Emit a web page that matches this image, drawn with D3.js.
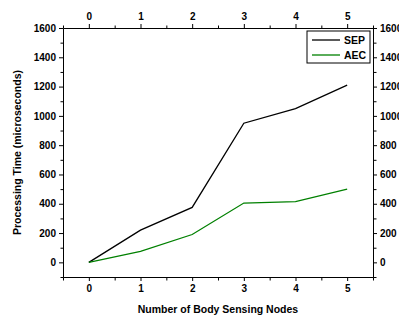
<!DOCTYPE html>
<html>
<head>
<meta charset="utf-8">
<script src="https://cdn.jsdelivr.net/npm/d3@7"></script>
<style>
  body { margin: 0; background: #fff; }
  text { font-family: "Liberation Sans", Arial, sans-serif; font-weight: bold; }
</style>
</head>
<body>
<svg id="mainsvg" width="399" height="320"></svg>
<script>
const nodes = [0, 1, 2, 3, 4, 5];
const sepValues = [0, 220, 375, 950, 1050, 1210];
const aecValues = [0, 75, 190, 405, 415, 500];
const yTicks = [0, 200, 400, 600, 800, 1000, 1200, 1400, 1600];
const seriesNames = ['SEP', 'AEC'];
const seriesColors = ['#000000', '#008000'];

const svg = d3.select('#mainsvg');
const margin = { top: 28, right: 26, bottom: 43, left: 63 };
const innerWidth = 399 - margin.left - margin.right;
const innerHeight = 320 - margin.top - margin.bottom;

const g = svg.append('g')
    .attr('transform', `translate(${margin.left}, ${margin.top})`);

const xScale = d3.scaleLinear().domain([-0.5, 5.5]).range([0, innerWidth]);
const yScale = d3.scaleLinear().domain([-100, 1600]).range([innerHeight, 0]);

const xMinor = d3.range(-0.5, 5.51, 0.5).filter(v => !nodes.includes(v));
const yMinor = d3.range(-100, 1601, 100).filter(v => !yTicks.includes(v));

function styleAxis(sel) {
    sel.selectAll('text').attr('font-size', '10px').attr('font-weight', 'bold').attr('fill', '#000');
    sel.selectAll('line').attr('stroke', '#000');
    sel.select('.domain').attr('stroke', '#000');
}

// major axes
const axBottom = g.append('g').attr('transform', `translate(0, ${innerHeight})`)
    .call(d3.axisBottom(xScale).tickValues(nodes).tickFormat(d3.format('d')).tickSize(4).tickSizeOuter(0).tickPadding(4));
const axTop = g.append('g')
    .call(d3.axisTop(xScale).tickValues(nodes).tickFormat(d3.format('d')).tickSize(4).tickSizeOuter(0).tickPadding(4));
const axLeft = g.append('g')
    .call(d3.axisLeft(yScale).tickValues(yTicks).tickFormat(d3.format('d')).tickSize(4).tickSizeOuter(0).tickPadding(3));
const axRight = g.append('g').attr('transform', `translate(${innerWidth}, 0)`)
    .call(d3.axisRight(yScale).tickValues(yTicks).tickFormat(d3.format('d')).tickSize(4).tickSizeOuter(0).tickPadding(3));
[axBottom, axTop, axLeft, axRight].forEach(styleAxis);

// minor ticks, plain lines
const minorG = g.append('g').attr('stroke', '#000');
[0, innerHeight].forEach((y0, k) => {
    const dir = k === 0 ? -3 : 3;
    minorG.selectAll(null).data(xMinor).join('line')
        .attr('x1', d => xScale(d) + 0.5).attr('x2', d => xScale(d) + 0.5)
        .attr('y1', y0 + 0.5).attr('y2', y0 + 0.5 + dir);
});
[0, innerWidth].forEach((x0, k) => {
    const dir = k === 0 ? -3 : 3;
    minorG.selectAll(null).data(yMinor).join('line')
        .attr('y1', d => yScale(d) + 0.5).attr('y2', d => yScale(d) + 0.5)
        .attr('x1', x0 + 0.5).attr('x2', x0 + 0.5 + dir);
});

// lines
const series = [sepValues, aecValues];
const line = d3.line().x((d, i) => xScale(nodes[i])).y(d => yScale(d));
series.forEach((vals, i) => {
    g.append('path')
        .datum(vals)
        .attr('d', line)
        .attr('fill', 'none')
        .attr('stroke', seriesColors[i])
        .attr('stroke-width', 1.3);
});

// legend
const legend = g.append('g').attr('transform', `translate(${innerWidth - 66}, 3)`);
legend.append('rect')
    .attr('width', 63).attr('height', 32)
    .attr('fill', '#fff').attr('stroke', '#000').attr('stroke-width', 1);
seriesNames.forEach((name, i) => {
    const y = 9 + i * 15;
    legend.append('line')
        .attr('x1', 5).attr('x2', 33).attr('y1', y).attr('y2', y)
        .attr('stroke', seriesColors[i]).attr('stroke-width', 1.3);
    legend.append('text')
        .attr('x', 37).attr('y', y + 4)
        .attr('font-size', '10.5px')
        .text(name);
});

// axis titles
svg.append('text')
    .attr('x', margin.left + innerWidth / 2).attr('y', 313)
    .attr('text-anchor', 'middle').attr('font-size', '10.5px')
    .text('Number of Body Sensing Nodes');

svg.append('text')
    .attr('transform', `translate(21, ${margin.top + innerHeight / 2}) rotate(-90)`)
    .attr('text-anchor', 'middle').attr('font-size', '10.5px')
    .text('Processing Time (microseconds)');
</script>
</body>
</html>
